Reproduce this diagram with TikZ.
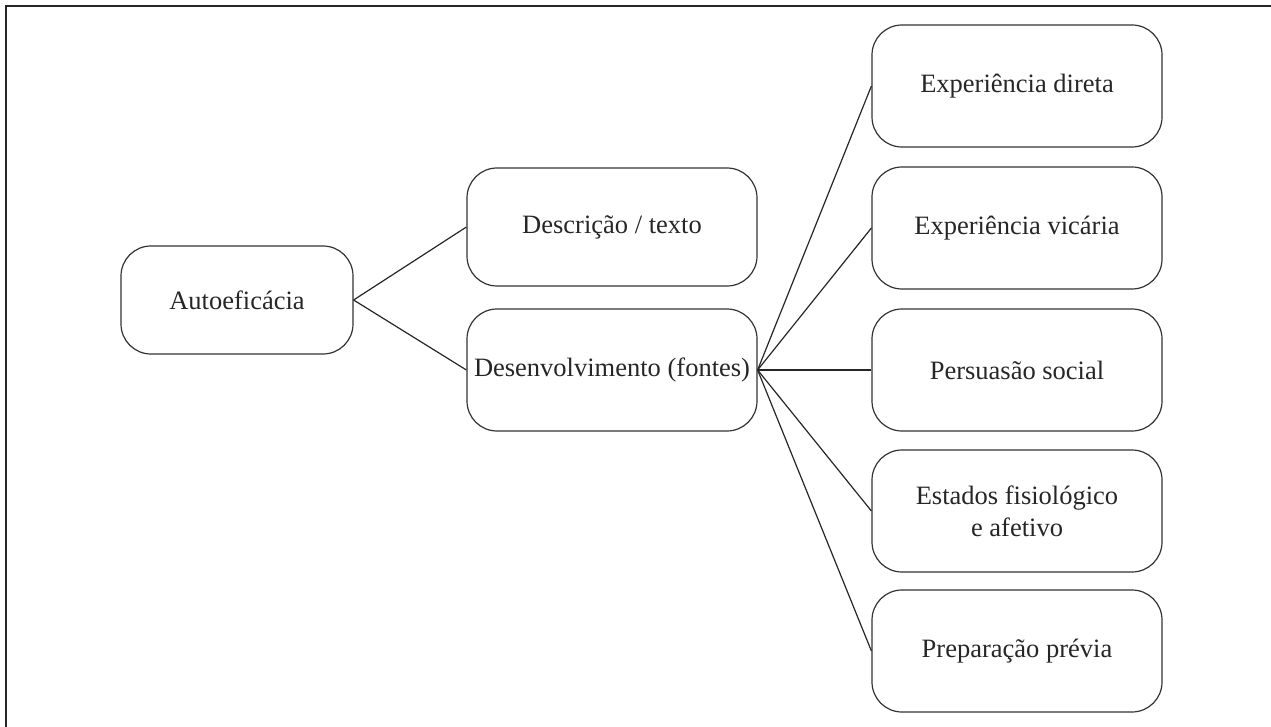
\documentclass[tikz,border=0pt]{standalone}
\usepackage{fontspec}
\setmainfont{Liberation Serif}
\begin{document}
\begin{tikzpicture}[x=1pt,y=-1pt,
  box/.style={draw=black!80, line width=1.2pt, rounded corners=30pt, minimum width=290pt, minimum height=122pt, inner sep=0pt, font=\fontsize{26.5}{32}\selectfont, align=center, text=black!85},
  link/.style={line width=1.2pt, draw=black!85}]
\useasboundingbox (0,0) rectangle (1271,727);
\draw[line width=2pt, black!85] (1271,6) -- (6,6) -- (6,727);
\node[box, minimum width=232pt, minimum height=108pt] (auto) at (237,300) {Autoeficácia};
\node[box, minimum height=118pt] (desc) at (612,227) {Descrição / texto};
\node[box] (desv) at (612,370) {Desenvolvimento (fontes)};
\node[box] (r1) at (1017,86) {Experiência direta};
\node[box] (r2) at (1017,228) {Experiência vicária};
\node[box] (r3) at (1017,370) {Persuasão social};
\node[box] (r4) at (1017,511) {Estados fisiológico\\e afetivo};
\node[box] (r5) at (1017,651) {Preparação prévia};
\draw[link] (auto.east) -- (desc.west);
\draw[link] (auto.east) -- (desv.west);
\foreach \r in {r1,r2,r3,r4,r5} \draw[link] (desv.east) -- (\r.west);
\end{tikzpicture}
\end{document}
